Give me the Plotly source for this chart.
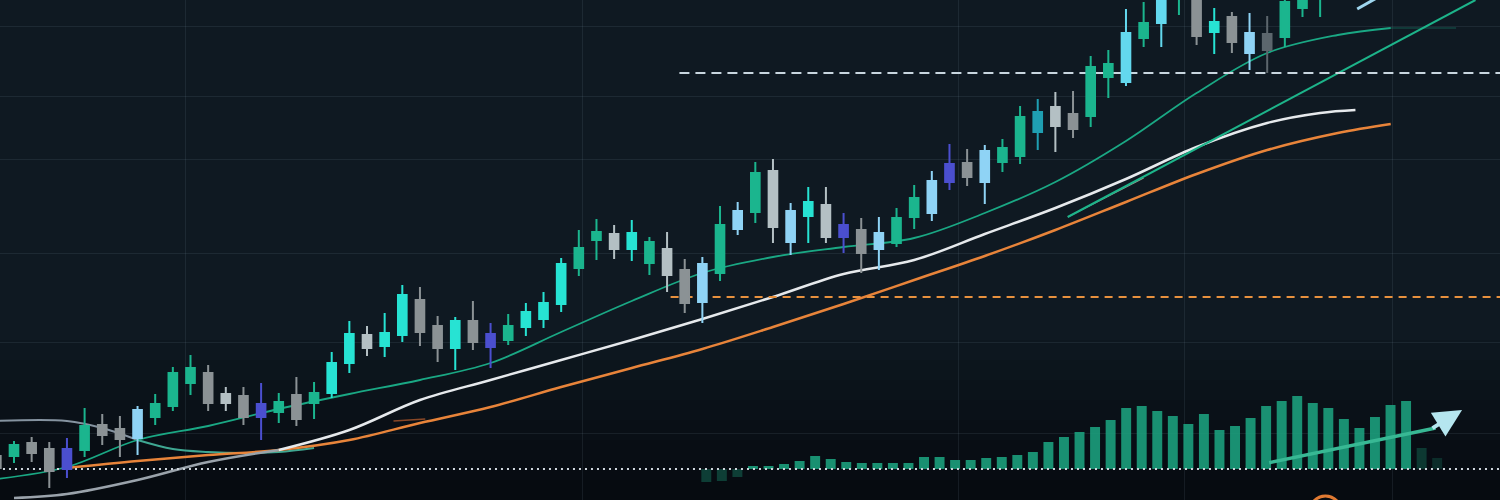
import plotly.graph_objects as go

# ---------------- candle data (price units, one entry per session) ----------------
candle_high = [48, 59, 63, 58, 62, 92, 86, 84, 94, 106,
               133, 145, 135, 113, 113, 117, 107, 123, 118, 148,
               179, 174, 187, 215, 213, 184, 183, 199, 177, 186,
               197, 208, 242, 270, 281, 275, 280, 263, 268, 241,
               243, 294, 298, 338, 341, 297, 313, 313, 287, 282,
               283, 292, 315, 329, 356, 351, 355, 361, 394, 401,
               408, 409, 444, 450, 491, 498, 520, 540, 525, 492,
               488, 487, 484, 506, 520, 540]
candle_body_top = [44, 55, 57, 51, 51, 74, 75, 71, 90, 96,
                   127, 132, 127, 106, 104, 96, 98, 105, 107, 137,
                   166, 165, 167, 205, 200, 174, 179, 179, 166, 174,
                   188, 197, 236, 252, 268, 266, 267, 258, 251, 230,
                   236, 275, 289, 327, 329, 289, 298, 295, 275, 270,
                   267, 282, 302, 319, 336, 337, 349, 352, 383, 388,
                   393, 386, 433, 436, 467, 477, 510, 530, 515, 478,
                   483, 467, 466, 498, 510, 530]
candle_body_bottom = [32, 44, 47, 29, 31, 50, 65, 61, 62, 83,
                      94, 117, 97, 97, 83, 83, 88, 81, 97, 107,
                      137, 152, 154, 165, 168, 152, 152, 158, 153, 160,
                      173, 181, 196, 232, 260, 251, 251, 237, 225, 197,
                      198, 227, 271, 288, 273, 258, 284, 263, 263, 247,
                      251, 257, 283, 287, 318, 323, 318, 338, 344, 368,
                      374, 371, 384, 423, 418, 462, 477, 505, 464, 468,
                      458, 447, 450, 463, 492, 510]
candle_low = [28, 37, 38, 12, 22, 43, 55, 43, 45, 75,
              89, 105, 89, 89, 75, 60, 77, 74, 81, 102,
              127, 144, 143, 158, 154, 138, 130, 150, 132, 155,
              164, 172, 188, 224, 240, 241, 239, 225, 208, 187,
              177, 219, 265, 277, 257, 245, 257, 257, 247, 227,
              230, 253, 271, 279, 310, 314, 296, 328, 336, 350,
              348, 362, 373, 402, 414, 453, 453, 485, 455, 446,
              447, 430, 427, 453, 483, 483]
candle_tone = ["gray", "green", "gray", "gray", "violet", "green", "gray", "gray", "sky", "green",
               "green", "green", "gray", "silver", "gray", "violet", "green", "gray", "green", "cyan",
               "cyan", "silver", "cyan", "cyan", "gray", "gray", "cyan", "gray", "violet", "green",
               "cyan", "cyan", "cyan", "green", "green", "silver", "cyan", "green", "silver", "gray",
               "sky", "green", "sky", "green", "silver", "sky", "cyan", "silver", "violet", "gray",
               "sky", "green", "green", "sky", "violet", "gray", "sky", "green", "green", "teal",
               "silver", "gray", "green", "green", "ice", "green", "ice", "green", "gray", "cyan",
               "gray", "sky", "slate", "green", "green", "green"]

# ---------------- moving averages (read at session positions) ----------------
ma_fast_idx = [0, 4, 8, 12, 16, 20, 24, 28, 32, 36, 40, 44, 48, 52, 56, 60, 64, 68, 72, 76, 79]
ma_fast_val = [21, 33, 60, 74, 91, 106, 120, 137, 168, 199, 227, 243, 253, 262, 287, 318, 359, 407, 447, 465, 472]
ma_fast_tail_idx = [79, 82.7]
ma_fast_tail_val = [472, 472]

ma_mid_idx = [1, 4, 8, 12, 16, 20, 24, 28, 32, 36, 40, 44, 48, 52, 56, 60, 64, 68, 72, 75, 77]
ma_mid_val = [2, 6, 20, 38, 50, 70, 100, 120, 140, 160, 181, 203, 226, 240, 266, 292, 321, 353, 377, 387, 390]

ma_slow_idx = [4, 8, 12, 16, 20, 24, 28, 32, 36, 40, 44, 48, 52, 56, 60, 64, 68, 72, 76, 79]
ma_slow_val = [32, 39, 45, 50, 60, 77, 93, 113, 132, 151, 173, 196, 220, 244, 270, 298, 326, 350, 367, 376]

ma_old_idx = [0, 4, 6, 8, 10, 12, 14, 16, 18]
ma_old_val = [79, 79, 72, 60, 51, 48, 47, 48, 52]

trend_idx = [60.7, 83.8]
trend_val = [283, 500]
branch_idx = [60.7, 65.0]
branch_val = [283, 322]
stub_idx = [22.5, 24.3]
stub_val = [79, 81]
pointer_idx = [77.1, 78.3]
pointer_val = [491, 503]

# ---------------- levels ----------------
resistance_level, resistance_from = 427, 38.7
support_level, support_from = 203, 38.2

# ---------------- momentum histogram ----------------
hist_idx = list(range(-3, 45))
hist_val = [-13, -12, -8,
            3, 3, 5, 8, 13, 10, 7, 6, 6, 6, 6, 12, 12, 9, 9, 11, 12, 14, 17, 27, 32,
            37, 42, 49, 61, 63, 58, 53, 45, 55, 39, 43, 51, 63, 68, 73, 66, 61, 50,
            41, 52, 64, 68, 21, 11]
hist_arrow_from = (33.1, 6)
hist_arrow_mid = (43.9, 41)
hist_arrow_to = (45.6, 59)

grid_x = [10.7, 33.2, 54.5, 67.3, 79.1]
grid_y = [474, 404, 341, 247, 158, 67]

# ---------------- styles ----------------
tone_colors = {
    "green": "#1bb58e", "cyan": "#27e3d3", "sky": "#8fd3f5", "ice": "#63d8ee",
    "silver": "#b4c0c4", "gray": "#8b9295", "violet": "#4b4fcf", "teal": "#1f9fb2",
    "slate": "#5c666d",
}
BG = "#0f1922"

fig = go.Figure()


def line(x, y, color, width, opacity=1.0, dash=None, shape="spline", xaxis="x", yaxis="y"):
    fig.add_trace(go.Scatter(x=x, y=y, mode="lines", xaxis=xaxis, yaxis=yaxis,
                             line=dict(color=color, width=width, dash=dash, shape=shape, smoothing=1.0),
                             opacity=opacity, hoverinfo="skip", showlegend=False))


# moving averages
line(ma_old_idx[:4], ma_old_val[:4], "#8593a0", 2)
line(ma_old_idx[3:], ma_old_val[3:], "#45b8a0", 2, opacity=0.9)
line(ma_fast_idx, ma_fast_val, "#1aa884", 1.8)
line(ma_fast_tail_idx, ma_fast_tail_val, "#1aa884", 1.5, opacity=0.3, shape="linear")
line(ma_slow_idx, ma_slow_val, "#e8843a", 2.5)
line(stub_idx, stub_val, "#c0602e", 1.5, opacity=0.7, shape="linear")
line(ma_mid_idx[:5], ma_mid_val[:5], "#9aa3ab", 2.5)
line(ma_mid_idx[4:], ma_mid_val[4:], "#e6e9ec", 2.5)
line(branch_idx, branch_val, "#d8cfbf", 1.3, opacity=0.7, shape="linear")
line(trend_idx, trend_val, "#1db48a", 2, shape="linear")
line(pointer_idx, pointer_val, "#9fd6ef", 3, shape="linear")

# support / resistance levels
line([resistance_from, 90], [resistance_level] * 2, "#c8d6df", 2, dash="10px,6px", shape="linear")
line([support_from, 90], [support_level] * 2, "#e8913e", 2, dash="8px,6px", shape="linear")

# candles, one trace per tone
positions = list(range(len(candle_high)))
for tone, col in tone_colors.items():
    sel = [i for i in positions if candle_tone[i] == tone]
    if not sel:
        continue
    kw = dict(
        x=sel,
        open=[candle_body_bottom[i] for i in sel],
        close=[candle_body_top[i] for i in sel],
        high=[candle_high[i] for i in sel],
        low=[candle_low[i] for i in sel],
        increasing=dict(line=dict(color=col, width=2), fillcolor=col),
        decreasing=dict(line=dict(color=col, width=2), fillcolor=col),
        whiskerwidth=0, showlegend=False, hoverinfo="skip",
    )
    try:
        tr = go.Candlestick(zorder=5, **kw)
    except Exception:
        tr = go.Candlestick(**kw)
    fig.add_trace(tr)

# momentum histogram on an overlay axis
hist_opacity = [0.35 if v < 0 else 0.9 for v in hist_val]
hist_opacity[-2] = 0.3
hist_opacity[-1] = 0.22
fig.add_trace(go.Bar(x=hist_idx, y=hist_val, width=0.64, xaxis="x2", yaxis="y2",
                     marker=dict(color="#1c9e7c", opacity=hist_opacity, line=dict(width=0)),
                     hoverinfo="skip", showlegend=False))
line([-49, 49], [0, 0], "#cfd6dc", 2, dash="2px,4px", shape="linear", xaxis="x2", yaxis="y2")

# arrow over the histogram
annotations = [
    dict(x=hist_arrow_mid[0], y=hist_arrow_mid[1], ax=hist_arrow_from[0], ay=hist_arrow_from[1],
         xref="x2", yref="y2", axref="x2", ayref="y2", showarrow=True, arrowhead=0,
         arrowwidth=3.5, arrowcolor="#38b894", text=""),
    dict(x=hist_arrow_to[0], y=hist_arrow_to[1], ax=hist_arrow_mid[0] - 0.3, ay=hist_arrow_mid[1] - 1,
         xref="x2", yref="y2", axref="x2", ayref="y2", showarrow=True, arrowhead=2,
         arrowsize=1.4, arrowwidth=4, arrowcolor="#b5e6ef", text=""),
]

shapes = []
# darker lower part of the background
for k in range(8):
    shapes.append(dict(type="rect", xref="paper", yref="paper", x0=0, x1=1, y0=0,
                       y1=0.04 * (k + 1), fillcolor="#000000", opacity=0.07,
                       line=dict(width=0), layer="below"))
# orange ring peeking at the bottom
shapes.append(dict(type="circle", xref="x", yref="y", xsizemode="pixel", ysizemode="pixel",
                   xanchor=75.3, yanchor=-12, x0=-16, x1=16, y0=-16, y1=16,
                   line=dict(color="#e07a32", width=3), layer="above"))

grid_col = "rgba(150,170,190,0.11)"
fig.update_layout(
    width=1500, height=500, margin=dict(l=0, r=0, t=0, b=0),
    paper_bgcolor=BG, plot_bgcolor=BG, showlegend=False,
    xaxis=dict(range=[0.207, 85.19], tickvals=grid_x, showticklabels=False, showgrid=True,
               gridcolor=grid_col, gridwidth=1, zeroline=False, showline=False, ticks="",
               rangeslider=dict(visible=False), fixedrange=True),
    yaxis=dict(range=[0, 500], tickvals=grid_y, showticklabels=False, showgrid=True,
               gridcolor=grid_col, gridwidth=1, zeroline=False, showline=False, ticks="",
               fixedrange=True),
    xaxis2=dict(overlaying="x", range=[-48.42, 48.04], visible=False, fixedrange=True),
    yaxis2=dict(overlaying="y", range=[-31, 469], visible=False, fixedrange=True),
    annotations=annotations, shapes=shapes,
)

fig.write_html("out.html", config={"displayModeBar": False},
               post_script="document.body.style.margin='0';document.body.style.background='" + BG + "';")
